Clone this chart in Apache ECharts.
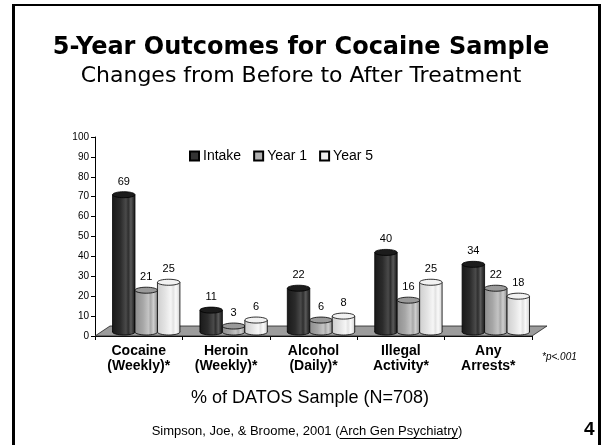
<!DOCTYPE html>
<html>
<head>
<meta charset="utf-8">
<script src="https://cdn.jsdelivr.net/npm/echarts@6/dist/echarts.min.js"></script>
<style>
html,body{margin:0;padding:0;background:#fff;}
#c{width:602px;height:445px;}
</style>
</head>
<body>
<div id="c"></div>
<script>
var categories = ['Cocaine\n(Weekly)*', 'Heroin\n(Weekly)*', 'Alcohol\n(Daily)*', 'Illegal\nActivity*', 'Any\nArrests*'];
var seriesNames = ['Intake', 'Year 1', 'Year 5'];
var intake = [69, 11, 22, 40, 34];
var year1 = [21, 3, 6, 16, 22];
var year5 = [25, 6, 8, 25, 18];
var yTicks = [0, 10, 20, 30, 40, 50, 60, 70, 80, 90, 100];

var palettes = [
  {legend:'#333333', top:'#1c1c1c', stops:[[0,'#1a1a1a'],[0.35,'#2b2b2b'],[0.6,'#4a4a4a'],[0.7,'#2e2e2e'],[0.82,'#5a5a5a'],[0.92,'#333333'],[1,'#202020']]},
  {legend:'#b0b0b0', top:'#9a9a9a', stops:[[0,'#8e8e8e'],[0.35,'#a6a6a6'],[0.6,'#c4c4c4'],[0.7,'#a8a8a8'],[0.82,'#cfcfcf'],[0.92,'#aaaaaa'],[1,'#909090']]},
  {legend:'#eeeeee', top:'#f2f2f2', stops:[[0,'#cfcfcf'],[0.35,'#e4e4e4'],[0.6,'#f6f6f6'],[0.7,'#e2e2e2'],[0.82,'#fafafa'],[0.92,'#e6e6e6'],[1,'#cccccc']]}
];

function gradient(stops){
  return new echarts.graphic.LinearGradient(0,0,1,0, stops.map(function(s){return {offset:s[0], color:s[1]};}));
}

function makeRender(idx){
  var pal = palettes[idx];
  return function(params, api){
    var cat = api.value(0), v = api.value(1);
    var base = api.coord([cat, 0]);
    var top = api.coord([cat, v]);
    var band = api.size([1, 0])[0];
    var bw = band * 0.257;
    var cx = base[0] + band * 0.086 + (idx - 1) * bw;
    var dy = 4;
    var y0 = base[1] - dy, y1 = top[1] - dy;
    var rx = bw / 2, ry = 3;
    var fill = gradient(pal.stops);
    return {
      type: 'group',
      children: [
        {type:'ellipse', shape:{cx:cx, cy:y0, rx:rx, ry:ry}, style:{fill:fill, stroke:'#000', lineWidth:0.8}},
        {type:'rect', shape:{x:cx-rx, y:y1, width:bw, height:Math.max(0,y0-y1)}, style:{fill:fill}},
        {type:'line', shape:{x1:cx-rx, y1:y1, x2:cx-rx, y2:y0}, style:{stroke:'#000', lineWidth:0.8}},
        {type:'line', shape:{x1:cx+rx, y1:y1, x2:cx+rx, y2:y0}, style:{stroke:'#000', lineWidth:0.8}},
        {type:'ellipse', shape:{cx:cx, cy:y1, rx:rx, ry:ry}, style:{fill:pal.top, stroke:'#000', lineWidth:0.8}},
        {type:'text', style:{text:String(v), x:cx, y:y1-13, align:'center', verticalAlign:'middle', font:'11px Arial, "Liberation Sans", sans-serif', fill:'#000'}}
      ]
    };
  };
}

function floorRender(params, api){
  var cs = params.coordSys;
  var y0 = api.coord([0, 0])[1];
  var x0 = cs.x, x1 = cs.x + cs.width;
  return {
    type:'polygon',
    shape:{points:[[x0,y0],[x1,y0],[x1+15,y0-10],[x0+15,y0-10]]},
    style:{fill:'#9c9c9c', stroke:'#222', lineWidth:0.8}
  };
}

var dataSets = [intake, year1, year5];
var series = [{
  type:'custom', name:'floor', renderItem:floorRender, data:[[0,0]], silent:true, z:1, legendHoverLink:false
}];
dataSets.forEach(function(arr, i){
  series.push({
    type:'custom', name:seriesNames[i], renderItem:makeRender(i), z:2+i,
    itemStyle:{color:palettes[i].legend, borderColor:'#000', borderWidth:1},
    data:arr.map(function(v, j){return [j, v];}),
    encode:{x:0, y:1}
  });
});

// measure footer text for underline placement
var footFont = '13px Arial, "Liberation Sans", sans-serif';
var footPre = 'Simpson, Joe, & Broome, 2001 (';
var footLink = 'Arch Gen Psychiatry';
var footText = footPre + footLink + ')';
var mctx = document.createElement('canvas').getContext('2d');
mctx.font = footFont;
var footW = mctx.measureText(footText).width;
var footCx = 307;
var footX = footCx - footW / 2;
var ulX1 = footX + mctx.measureText(footPre).width;
var ulX2 = ulX1 + mctx.measureText(footLink).width;

var chart = echarts.init(document.getElementById('c'), null, {renderer:'canvas'});
chart.setOption({
  animation:false,
  backgroundColor:'#fff',
  title:[
    {text:'5-Year Outcomes for Cocaine Sample', left:'center', top:31, textStyle:{fontFamily:'"DejaVu Sans", Verdana, sans-serif', fontWeight:'bold', fontSize:24, color:'#000'}},
    {text:'Changes from Before to After Treatment', left:'center', top:60, textStyle:{fontFamily:'"DejaVu Sans", Verdana, sans-serif', fontWeight:'normal', fontSize:22, color:'#000'}}
  ],
  legend:{
    data:seriesNames, left:184, top:144, icon:'rect', itemWidth:9, itemHeight:9, itemGap:12,
    textStyle:{fontFamily:'Arial, "Liberation Sans", sans-serif', fontSize:14, color:'#000', padding:[0,0,0,-1]},
    selectedMode:false
  },
  grid:{left:95, right:70, top:137, bottom:109, containLabel:false},
  xAxis:{
    type:'category', data:categories, boundaryGap:true,
    axisLine:{lineStyle:{color:'#000', width:1}},
    axisTick:{show:true, alignWithLabel:false, length:4, lineStyle:{color:'#000'}},
    axisLabel:{fontFamily:'Arial, "Liberation Sans", sans-serif', fontWeight:'bold', fontSize:14, color:'#000', lineHeight:15, margin:8, interval:0},
    z:0
  },
  yAxis:{
    type:'value', min:yTicks[0], max:yTicks[yTicks.length-1], interval:10,
    axisLine:{show:true, lineStyle:{color:'#000', width:1}},
    axisTick:{show:true, length:4, lineStyle:{color:'#000'}},
    axisLabel:{fontFamily:'Arial, "Liberation Sans", sans-serif', fontSize:10, color:'#000', margin:6},
    splitLine:{show:false}
  },
  series:series,
  graphic:[
    {type:'line', shape:{x1:13.5, y1:4, x2:13.5, y2:445}, style:{stroke:'#000', lineWidth:3}},
    {type:'line', shape:{x1:12, y1:5, x2:601, y2:5}, style:{stroke:'#000', lineWidth:2}},
    {type:'line', shape:{x1:599.5, y1:4, x2:599.5, y2:445}, style:{stroke:'#000', lineWidth:3}},
    {type:'text', left:542, top:352, style:{text:'*p<.001', font:'italic 10px Arial, "Liberation Sans", sans-serif', fill:'#000'}},
    {type:'text', x:310, y:398, style:{text:'% of DATOS Sample (N=708)', font:'18px Arial, "Liberation Sans", sans-serif', fill:'#000', align:'center', verticalAlign:'middle'}},
    {type:'text', x:footX, y:431, style:{text:footText, font:footFont, fill:'#000', align:'left', verticalAlign:'middle'}},
    {type:'line', shape:{x1:ulX1, y1:438.5, x2:ulX2, y2:438.5}, style:{stroke:'#000', lineWidth:1}},
    {type:'text', left:584, top:420, style:{text:'4', font:'bold 19px Arial, "Liberation Sans", sans-serif', fill:'#000'}}
  ]
});
</script>
</body>
</html>
